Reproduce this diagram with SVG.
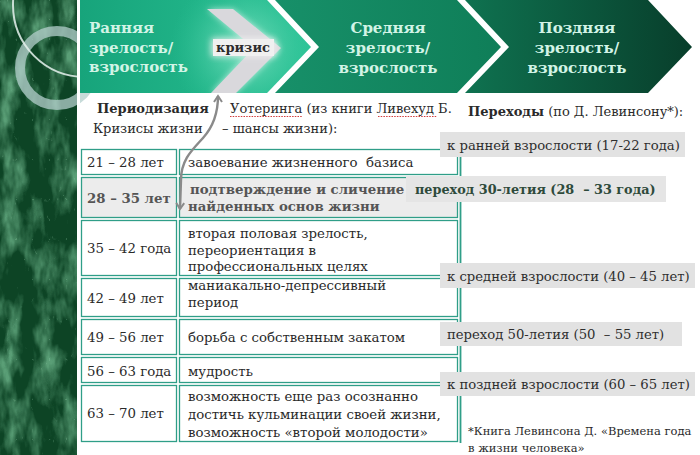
<svg xmlns="http://www.w3.org/2000/svg" width="700" height="455" viewBox="0 0 700 455">
<defs>
  <linearGradient id="g1" x1="80" y1="0" x2="315" y2="0" gradientUnits="userSpaceOnUse">
    <stop offset="0" stop-color="#17a47b"/>
    <stop offset="0.6" stop-color="#22b68a"/>
    <stop offset="1" stop-color="#2cc497"/>
  </linearGradient>
  <radialGradient id="glow" cx="245" cy="48" r="75" gradientUnits="userSpaceOnUse">
    <stop offset="0" stop-color="#8ae6c8" stop-opacity="0.9"/>
    <stop offset="1" stop-color="#2cc497" stop-opacity="0"/>
  </radialGradient>
  <linearGradient id="g2" x1="275" y1="0" x2="502" y2="0" gradientUnits="userSpaceOnUse">
    <stop offset="0" stop-color="#179069"/>
    <stop offset="1" stop-color="#0f7e58"/>
  </linearGradient>
  <linearGradient id="g3" x1="465" y1="0" x2="692" y2="0" gradientUnits="userSpaceOnUse">
    <stop offset="0" stop-color="#0f7250"/>
    <stop offset="1" stop-color="#083e2b"/>
  </linearGradient>
  <filter id="marble" x="0" y="0" width="100%" height="100%">
    <feTurbulence type="fractalNoise" baseFrequency="0.05 0.02" numOctaves="4" seed="7"/>
    <feColorMatrix type="matrix" values="0 0 0 0 0.10  0 0 0 0 0.34  0 0 0 0 0.18  3 0 0 0 -1.3"/>
    <feComposite in2="SourceGraphic" operator="in"/>
  </filter>
  <filter id="marble2" x="0" y="0" width="100%" height="100%">
    <feTurbulence type="turbulence" baseFrequency="0.06 0.025" numOctaves="3" seed="2"/>
    <feColorMatrix type="matrix" values="0 0 0 0 0.40  0 0 0 0 0.75  0 0 0 0 0.50  -14 0 0 0 0.9"/>
    <feComposite in2="SourceGraphic" operator="in"/>
  </filter>
  <filter id="soft" x="-30%" y="-30%" width="160%" height="160%">
    <feGaussianBlur stdDeviation="3"/>
  </filter>
  <marker id="ah" viewBox="0 0 10 10" refX="7" refY="5" markerWidth="10" markerHeight="10" orient="auto-start-reverse" markerUnits="userSpaceOnUse">
    <path d="M1,1 L7,5 L1,9" fill="none" stroke="#8a8a8a" stroke-width="2"/>
  </marker>
</defs>
<style>
  .t{font-family:"DejaVu Serif","Liberation Serif",serif;font-size:13.3px;fill:#2a2a2a;white-space:pre}
  .h{font-size:13px}
  .b{font-weight:bold}
  .g{fill:#555555}
  .hd{font-family:"DejaVu Serif","Liberation Serif",serif;font-size:15px;font-weight:bold;fill:#d2f4e6}
  .cell{fill:#ffffff;stroke:#2f9e88;stroke-width:1.3}
  .grey{fill:#ececec}
  .lbl{fill:#e2e2e2}
  .lt{font-family:"DejaVu Serif","Liberation Serif",serif;font-size:13.2px;fill:#2e2e2e;white-space:pre}
  .conn{stroke:#2f9e88;stroke-width:1.8;fill:none}
  .spell{stroke:#d23c3c;stroke-width:1.2;stroke-dasharray:1.5 1.2;fill:none}
</style>

<rect width="700" height="455" fill="#ffffff"/>

<!-- left marble strip -->
<g id="strip">
  <rect x="0" y="0" width="77" height="455" fill="#0d4425"/>
  <rect x="0" y="0" width="77" height="455" fill="#1c6a3c" filter="url(#marble)"/>
  <rect x="0" y="0" width="77" height="455" fill="#5fb584" filter="url(#marble2)" opacity="0.25"/>
  <circle cx="57" cy="68" r="37" fill="none" stroke="#b4cfcc" stroke-opacity="0.75" stroke-width="10"/>
  <circle cx="85" cy="5" r="72" fill="none" stroke="#e6f2ee" stroke-opacity="0.85" stroke-width="2"/>
  <rect x="77" y="0" width="3" height="455" fill="#ffffff"/>
</g>

<!-- banner -->
<g id="stage-early">
  <polygon points="80,0 267,0 311,47 267,93 80,93" fill="url(#g1)"/>
  <polygon points="150,0 267,0 311,47 267,93 150,93" fill="url(#glow)"/>
  <text class="hd" x="89" y="33">Ранняя</text>
  <text class="hd" x="89" y="53">зрелость/</text>
  <text class="hd" x="89" y="72">взрослость</text>
</g>
<g id="crisis">
  <polygon points="207,9 233,9 281,48 236,93 211,93 254,48" fill="#ffffff" opacity="0.6" filter="url(#soft)"/>
  <polygon points="207,9 233,9 281,48 236,93 211,93 254,48" fill="#d9d8dc"/>
  <rect x="211" y="38" width="65" height="19" rx="3" fill="#f2f2f2" opacity="0.8" filter="url(#soft)"/>
  <rect x="213" y="39" width="61" height="17" fill="#f0f0f0"/>
  <text class="t b h" x="216" y="52" style="fill:#2b2b2b">кризис</text>
</g>
<g id="stage-middle">
  <polygon points="275,0 457,0 501,47 457,93 275,93 319,47" fill="url(#g2)"/>
  <text class="hd" x="388" y="33" text-anchor="middle">Средняя</text>
  <text class="hd" x="388" y="53" text-anchor="middle">зрелость/</text>
  <text class="hd" x="388" y="73" text-anchor="middle">взрослость</text>
</g>
<g id="stage-late">
  <polygon points="465,0 648,0 692,47 648,93 465,93 509,47" fill="url(#g3)"/>
  <text class="hd" x="577" y="33" text-anchor="middle">Поздняя</text>
  <text class="hd" x="577" y="53" text-anchor="middle">зрелость/</text>
  <text class="hd" x="577" y="73" text-anchor="middle">взрослость</text>
</g>

<!-- headings -->
<g id="heading-left">
  <text class="t b h" x="97" y="113">Периодизация</text>
  <text class="t h" x="230" y="113">Уотеринга (из книги Ливехуд Б.</text>
  <text class="t h" x="93" y="133">Кризисы жизни</text>
  <text class="t h" x="222" y="133">– шансы жизни):</text>
  <path class="spell" d="M230,116.5 H302"/>
  <path class="spell" d="M378,116.5 H437"/>
</g>
<g id="heading-right">
  <text class="t h" x="468" y="116"><tspan class="b">Переходы</tspan> (по Д. Левинсону*):</text>
</g>

<!-- table -->
<g id="table">
  <g id="row1">
    <rect class="cell" x="81.5" y="149.5" width="95" height="25"/>
    <rect class="cell" x="179.5" y="149.5" width="278" height="25"/>
    <text class="t" x="87" y="167">21 – 28 лет</text>
    <text class="t" x="188" y="167">завоевание жизненного  базиса</text>
  </g>
  <g id="row2">
    <rect class="cell grey" x="81.5" y="177.5" width="95" height="40"/>
    <rect class="cell grey" x="179.5" y="177.5" width="278" height="40"/>
    <text class="t b g" x="87" y="203">28 – 35 лет</text>
    <text class="t b g" x="190" y="194">подтверждение и сличение</text>
    <text class="t b g" x="188" y="211">найденных основ жизни</text>
  </g>
  <g id="row3">
    <rect class="cell" x="81.5" y="220.5" width="95" height="55"/>
    <rect class="cell" x="179.5" y="220.5" width="278" height="55"/>
    <text class="t" x="87" y="253">35 – 42 года</text>
    <text class="t" x="188" y="238">вторая половая зрелость,</text>
    <text class="t" x="188" y="255">переориентация в</text>
    <text class="t" x="188" y="271">профессиональных целях</text>
  </g>
  <g id="row4">
    <rect class="cell" x="81.5" y="278.5" width="95" height="38"/>
    <rect class="cell" x="179.5" y="278.5" width="278" height="38"/>
    <text class="t" x="87" y="303">42 – 49 лет</text>
    <text class="t" x="188" y="290">маниакально-депрессивный</text>
    <text class="t" x="188" y="307">период</text>
  </g>
  <g id="row5">
    <rect class="cell" x="81.5" y="319.5" width="95" height="35"/>
    <rect class="cell" x="179.5" y="319.5" width="278" height="35"/>
    <text class="t" x="87" y="342">49 – 56 лет</text>
    <text class="t" x="188" y="342">борьба с собственным закатом</text>
  </g>
  <g id="row6">
    <rect class="cell" x="81.5" y="357.5" width="95" height="25"/>
    <rect class="cell" x="179.5" y="357.5" width="278" height="25"/>
    <text class="t" x="87" y="376">56 – 63 года</text>
    <text class="t" x="188" y="376">мудрость</text>
  </g>
  <g id="row7">
    <rect class="cell" x="81.5" y="385.5" width="95" height="56"/>
    <rect class="cell" x="179.5" y="385.5" width="278" height="56"/>
    <text class="t" x="87" y="418">63 – 70 лет</text>
    <text class="t" x="188" y="401">возможность еще раз осознанно</text>
    <text class="t" x="188" y="419">достичь кульминации своей жизни,</text>
    <text class="t" x="188" y="437">возможность «второй молодости»</text>
  </g>
</g>

<!-- connectors -->
<g id="connectors">
  <path class="conn" d="M460.5,148 V443"/>
  <path d="M218,96 C218,115 212,128 203,138 C192,150 181,160 181,180 L180,209" fill="none" stroke="#8a8a8a" stroke-width="2.4" marker-start="url(#ah)" marker-end="url(#ah)"/>
</g>

<!-- transition labels -->
<g id="t-early">
  <rect class="lbl" x="440" y="132" width="245" height="25"/>
  <text class="lt" x="447" y="150">к ранней взрослости (17-22 года)</text>
</g>
<g id="t-30">
  <rect class="lbl" x="406" y="176" width="260" height="26" style="fill:#e5e5e5"/>
  <text class="lt b" x="415" y="194" style="fill:#2e4a3b;font-size:12.8px">переход 30-летия (28  – 33 года)</text>
</g>
<g id="t-middle">
  <rect class="lbl" x="440" y="263" width="255" height="25"/>
  <text class="lt" x="447" y="281">к средней взрослости (40 – 45 лет)</text>
</g>
<g id="t-50">
  <rect class="lbl" x="440" y="322" width="242" height="24"/>
  <text class="lt" x="447" y="339">переход 50-летия (50  – 55 лет)</text>
</g>
<g id="t-late">
  <rect class="lbl" x="440" y="372" width="255" height="24"/>
  <text class="lt" x="447" y="389">к поздней взрослости (60 – 65 лет)</text>
</g>

<g id="footnote">
  <text class="t" x="468" y="435" style="font-size:11.5px">*Книга Левинсона Д. «Времена года</text>
  <text class="t" x="468" y="452" style="font-size:11.5px">в жизни человека»</text>
</g>
</svg>
